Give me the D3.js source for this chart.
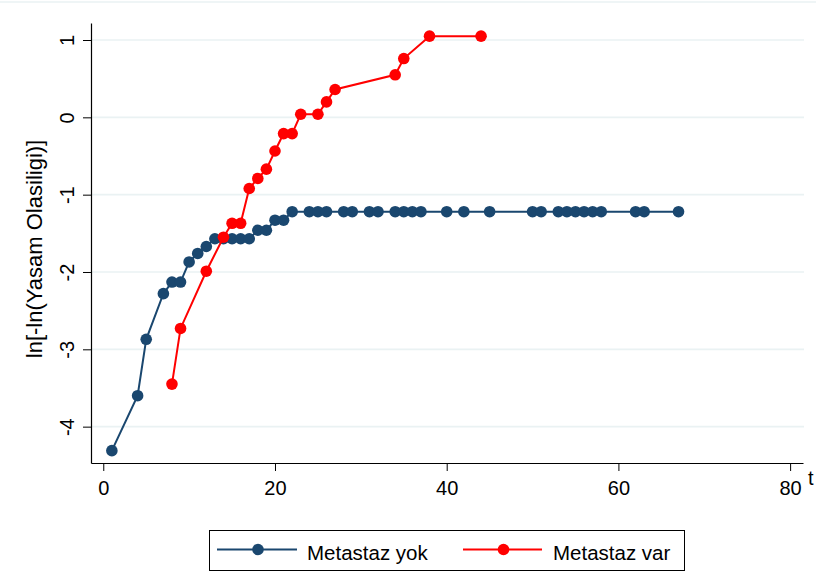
<!DOCTYPE html>
<html>
<head>
<meta charset="utf-8">
<script src="https://cdn.jsdelivr.net/npm/d3@7/dist/d3.min.js"></script>
<style>
  html, body { margin: 0; padding: 0; background: #fff; }
  svg { display: block; font-family: "Liberation Sans", Arial, sans-serif; }
</style>
</head>
<body>
<svg id="chart" width="816" height="576"></svg>
<script>
// Metastaz yok (no metastasis): time and ln[-ln(S)]
const yokTime = [1, 4, 5, 7, 8, 9, 10, 11, 12, 13, 14, 15, 16, 17, 18, 19, 20, 21, 22,
  24, 25, 26, 28, 29, 31, 32, 34, 35, 36, 37, 40, 42, 45, 50, 51, 53, 54, 55, 56, 57, 58, 62, 63, 67];
const yokValue = [-4.31, -3.60, -2.87, -2.28, -2.13, -2.13, -1.87, -1.76, -1.67, -1.57, -1.57, -1.57, -1.57, -1.57,
  -1.46, -1.46, -1.33, -1.33, -1.22,
  -1.22, -1.22, -1.22, -1.22, -1.22, -1.22, -1.22, -1.22, -1.22, -1.22, -1.22, -1.22, -1.22, -1.22,
  -1.22, -1.22, -1.22, -1.22, -1.22, -1.22, -1.22, -1.22, -1.22, -1.22, -1.22];

// Metastaz var (metastasis present)
const varTime = [8, 9, 12, 14, 15, 16, 17, 18, 19, 20, 21, 22, 23, 25, 26, 27, 34, 35, 38, 44];
const varValue = [-3.45, -2.73, -1.99, -1.55, -1.37, -1.37, -0.92, -0.79, -0.67, -0.435, -0.21, -0.21,
  0.04, 0.04, 0.20, 0.36, 0.55, 0.76, 1.05, 1.05];

const xTicks = [0, 20, 40, 60, 80];
const yTicks = [-4, -3, -2, -1, 0, 1];
const seriesNames = ["Metastaz yok", "Metastaz var"];
const seriesColors = ["#1a476f", "#ff0000"];

// plain hyphen for negative labels
const fmt = d => String(d);

const svg = d3.select("#chart");

const x = d3.scaleLinear().domain([-1.43, 81.5]).range([91, 803]);
const y = d3.scaleLinear().domain([-4.47, 1.22]).range([463, 23]);

// faint outer border line at the top of the graph region
svg.append("line")
  .attr("x1", 0).attr("x2", 816).attr("y1", 2).attr("y2", 2)
  .attr("stroke", "#eaf2f3").attr("stroke-width", 1.5);

// horizontal grid lines
svg.append("g").selectAll("line").data(yTicks).join("line")
  .attr("x1", x.range()[0]).attr("x2", 804)
  .attr("y1", d => y(d)).attr("y2", d => y(d))
  .attr("stroke", "#eaf2f3").attr("stroke-width", 1.6);

// y axis
const yAxis = svg.append("g")
  .attr("transform", `translate(${x.range()[0]},0)`)
  .call(d3.axisLeft(y).tickValues(yTicks).tickSize(8).tickSizeOuter(0).tickFormat(fmt));
yAxis.select(".domain").attr("stroke", "#000").attr("stroke-width", 1.2);
yAxis.selectAll(".tick line").attr("stroke", "#000").attr("stroke-width", 1);
yAxis.selectAll(".tick text")
  .attr("font-size", 20).attr("fill", "#000")
  .attr("text-anchor", "middle")
  .attr("transform", "translate(-24,0) rotate(-90)")
  .attr("x", 0).attr("y", 0).attr("dy", "0.35em");

// x axis
const xAxis = svg.append("g")
  .attr("transform", `translate(0,${y.range()[0]})`)
  .call(d3.axisBottom(x).tickValues(xTicks).tickSize(8).tickSizeOuter(0).tickFormat(fmt));
xAxis.select(".domain").attr("stroke", "#000").attr("stroke-width", 1.2);
xAxis.selectAll(".tick line").attr("stroke", "#000").attr("stroke-width", 1);
xAxis.selectAll(".tick text")
  .attr("font-size", 20).attr("fill", "#000")
  .attr("y", 32).attr("dy", 0);

// axis titles
svg.append("text")
  .attr("transform", `translate(42,249) rotate(-90)`)
  .attr("text-anchor", "middle")
  .attr("font-size", 22).attr("fill", "#000")
  .text("ln[-ln(Yasam Olasiligi)]");

svg.append("text")
  .attr("x", 808).attr("y", 485)
  .attr("font-size", 20).attr("fill", "#000")
  .text("t");

// series
const series = [
  { name: seriesNames[0], color: seriesColors[0], pts: yokTime.map((t, i) => [t, yokValue[i]]) },
  { name: seriesNames[1], color: seriesColors[1], pts: varTime.map((t, i) => [t, varValue[i]]) }
];
const line = d3.line().x(d => x(d[0])).y(d => y(d[1]));

series.forEach(s => {
  const g = svg.append("g");
  g.append("path").datum(s.pts)
    .attr("d", line).attr("fill", "none")
    .attr("stroke", s.color).attr("stroke-width", 2);
  g.selectAll("circle").data(s.pts).join("circle")
    .attr("cx", d => x(d[0])).attr("cy", d => y(d[1]))
    .attr("r", 5.8).attr("fill", s.color);
});

// legend
const legend = svg.append("g");
legend.append("rect")
  .attr("x", 209.5).attr("y", 530.5).attr("width", 475).attr("height", 40)
  .attr("fill", "#fff").attr("stroke", "#000").attr("stroke-width", 1);
const legendItems = [
  { x0: 217, x1: 297, tx: 307 },
  { x0: 463, x1: 542, tx: 553 }
];
legendItems.forEach((it, i) => {
  const ly = 549.5;
  legend.append("line")
    .attr("x1", it.x0).attr("x2", it.x1).attr("y1", ly).attr("y2", ly)
    .attr("stroke", seriesColors[i]).attr("stroke-width", 2);
  legend.append("circle")
    .attr("cx", (it.x0 + it.x1) / 2 + 1).attr("cy", ly).attr("r", 5.8)
    .attr("fill", seriesColors[i]);
  legend.append("text")
    .attr("x", it.tx).attr("y", 559.5)
    .attr("font-size", 20.5).attr("fill", "#000")
    .text(seriesNames[i]);
});
</script>
</body>
</html>
